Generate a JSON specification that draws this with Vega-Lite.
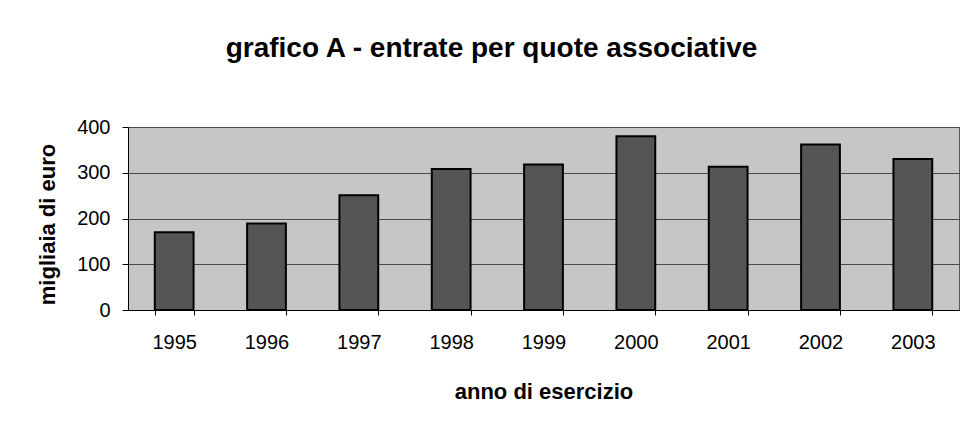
{
  "$schema": "https://vega.github.io/schema/vega-lite/v6.json",
  "autosize": {"type": "none"},
  "padding": {"left": 128, "top": 127, "right": 6, "bottom": 116},
  "width": 831,
  "height": 183,
  "background": "white",
  "title": {
    "text": "grafico A - entrate per quote associative",
    "frame": "group",
    "anchor": "middle",
    "dx": -52,
    "offset": 32,
    "baseline": "alphabetic",
    "font": "Liberation Sans",
    "fontSize": 28,
    "fontWeight": "bold",
    "color": "black"
  },
  "data": {
    "values": [
      {"anno": "1995", "valore": 170},
      {"anno": "1996", "valore": 189},
      {"anno": "1997", "valore": 251},
      {"anno": "1998", "valore": 308},
      {"anno": "1999", "valore": 318},
      {"anno": "2000", "valore": 380},
      {"anno": "2001", "valore": 313},
      {"anno": "2002", "valore": 362},
      {"anno": "2003", "valore": 330}
    ]
  },
  "mark": {"type": "bar", "fill": "#555555", "stroke": "black", "strokeWidth": 2},
  "encoding": {
    "x": {
      "field": "anno",
      "type": "ordinal",
      "scale": {"paddingInner": 0.58, "paddingOuter": 0.29},
      "axis": {
        "title": "anno di esercizio",
        "titleFont": "Liberation Sans",
        "titleFontSize": 22,
        "titleFontWeight": "bold",
        "titleColor": "black",
        "titleBaseline": "alphabetic",
        "titleY": 88,
        "labelAngle": 0,
        "labelFont": "Liberation Sans",
        "labelFontSize": 20,
        "labelColor": "black",
        "labelBaseline": "alphabetic",
        "labelPadding": 33,
        "tickSize": 5,
        "tickBand": "extent",
        "tickColor": "black",
        "domainColor": "black",
        "grid": false
      }
    },
    "y": {
      "field": "valore",
      "type": "quantitative",
      "scale": {"domain": [0, 400]},
      "axis": {
        "title": "migliaia di euro",
        "titleFont": "Liberation Sans",
        "titleFontSize": 22,
        "titleFontWeight": "bold",
        "titleColor": "black",
        "titleAngle": -90,
        "titleAlign": "center",
        "titleBaseline": "middle",
        "titleX": -81,
        "titleY": 97,
        "values": [0, 100, 200, 300, 400],
        "labelFont": "Liberation Sans",
        "labelFontSize": 20,
        "labelColor": "black",
        "labelPadding": 12,
        "tickSize": 6,
        "tickColor": "black",
        "domainColor": "black",
        "gridColor": "#4a4a4a",
        "gridWidth": 1
      }
    }
  },
  "config": {
    "view": {"fill": "#c6c6c6", "stroke": "#555555", "strokeWidth": 1}
  }
}
